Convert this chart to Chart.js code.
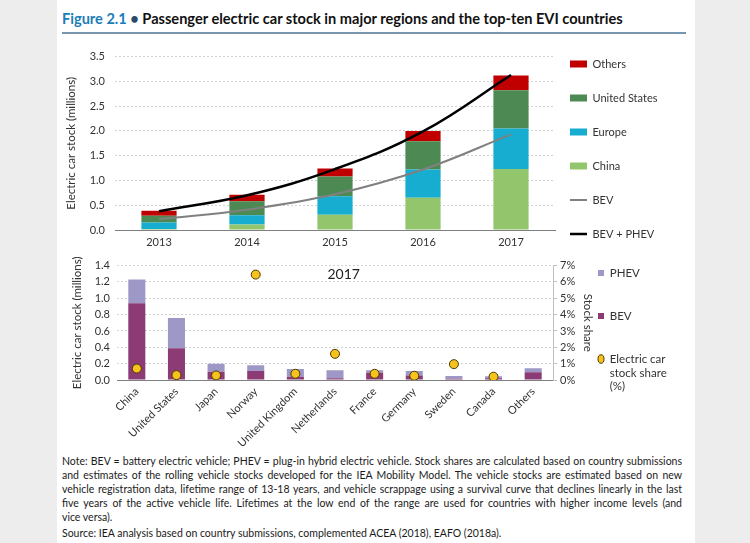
<!DOCTYPE html>
<html><head><meta charset="utf-8">
<script src="https://cdn.jsdelivr.net/npm/chart.js@4.4.1/dist/chart.umd.min.js"></script>
<style>
html,body{margin:0;padding:0;background:#ededed;width:750px;height:543px;overflow:hidden;}
#panel{position:absolute;left:57px;top:0;width:638px;height:543px;background:#fff;}
#title{position:absolute;left:62px;top:10px;font-family:Lato,"Open Sans",sans-serif;font-weight:bold;font-size:15px;color:#111;white-space:nowrap;line-height:18px;}
#title .fig{color:#1b7db8;}
#title .dot{color:#2a4a66;}
#rule{position:absolute;left:62px;top:32px;width:624px;height:1.5px;background:#7896ad;}
#c1{position:absolute;left:57px;top:40px;}
#c2{position:absolute;left:57px;top:252px;}
.note{position:absolute;left:62px;width:620px;font-family:Lato,"Open Sans",sans-serif;font-size:11px;color:#1a1a1a;line-height:14px;height:14px;overflow:visible;}
.just{text-align:justify;text-align-last:justify;}
</style>
</head>
<body>
<div id="panel"></div>
<div id="title"><span class="fig">Figure 2.1</span> <span class="dot">&bull;</span> Passenger electric car stock in major regions and the top-ten EVI countries</div>
<div id="rule"></div>
<canvas id="c1" width="638" height="212"></canvas>
<canvas id="c2" width="638" height="200"></canvas>
<div class="note just" style="top:454px">Note: BEV = battery electric vehicle; PHEV = plug-in hybrid electric vehicle. Stock shares are calculated based on country submissions</div>
<div class="note just" style="top:468px">and estimates of the rolling vehicle stocks developed for the IEA Mobility Model. The vehicle stocks are estimated based on new</div>
<div class="note just" style="top:482px">vehicle registration data, lifetime range of 13-18 years, and vehicle scrappage using a survival curve that declines linearly in the last</div>
<div class="note just" style="top:496px">five years of the active vehicle life. Lifetimes at the low end of the range are used for countries with higher income levels (and</div>
<div class="note" style="top:510px">vice versa).</div>
<div class="note" style="top:526px">Source: IEA analysis based on country submissions, complemented ACEA (2018), EAFO (2018a).</div>
<script>
// ---------- data ----------
const years = ['2013', '2014', '2015', '2016', '2017'];
const chinaStock = [0.02, 0.11, 0.31, 0.65, 1.23];
const europeStock = [0.13, 0.19, 0.37, 0.57, 0.82];
const usStock = [0.14, 0.28, 0.40, 0.57, 0.77];
const othersStock = [0.10, 0.13, 0.16, 0.21, 0.30];
const bevStock = [0.22, 0.41, 0.72, 1.22, 1.93];
const totalStock = [0.38, 0.70, 1.23, 1.99, 3.13];
const topTicks = [0.0, 0.5, 1.0, 1.5, 2.0, 2.5, 3.0, 3.5];

const countries = ['China', 'United States', 'Japan', 'Norway', 'United Kingdom', 'Netherlands', 'France', 'Germany', 'Sweden', 'Canada', 'Others'];
const bev2017 = [0.94, 0.39, 0.10, 0.11, 0.04, 0.02, 0.09, 0.055, 0.015, 0.022, 0.095];
const phev2017 = [0.29, 0.37, 0.10, 0.07, 0.095, 0.10, 0.03, 0.055, 0.035, 0.024, 0.05];
const share2017 = [0.70, 0.30, 0.28, 6.45, 0.38, 1.60, 0.38, 0.26, 0.97, 0.20, null];
const bottomTicks = [0.0, 0.2, 0.4, 0.6, 0.8, 1.0, 1.2, 1.4];
const shareTicks = [0, 1, 2, 3, 4, 5, 6, 7];

const topLegendOrder = ['Others', 'United States', 'Europe', 'China', 'BEV', 'BEV + PHEV'];
const bottomLegendOrder = ['PHEV', 'BEV', 'Electric car stock share (%)'];

// ---------- text fitting ----------
(function(){
  const c = document.createElement('canvas').getContext('2d');
  const fam = 'Lato, "Open Sans", sans-serif';
  const t = document.getElementById('title');
  c.font = 'bold 100px ' + fam;
  const tw = c.measureText(t.textContent).width;
  t.style.fontSize = Math.min(15.5, 100 * 562 / tw) + 'px';
  c.font = '100px ' + fam;
  let mw = 0;
  document.querySelectorAll('.note').forEach(n => { mw = Math.max(mw, c.measureText(n.textContent).width); });
  const fs = Math.min(11.5, 100 * 614 / mw);
  document.querySelectorAll('.note').forEach(n => { n.style.fontSize = fs + 'px'; });
})();

Chart.defaults.font.family = 'Lato, "Open Sans", sans-serif';
Chart.defaults.font.size = 11;
Chart.defaults.color = '#333';
Chart.defaults.animation = false;

const legendPlace = {
  id: 'legendPlace',
  afterLayout(chart, args, o) {
    const lg = chart.legend;
    if (!lg || o.left === undefined) return;
    lg.left = o.left; lg.top = o.top;
    lg.width = o.width; lg.height = o.height;
    lg.right = o.left + o.width; lg.bottom = o.top + o.height;
  }
};

const yearLabel = {
  id: 'yearLabel',
  afterDatasetsDraw(chart, args, o) {
    if (!o.text) return;
    const {ctx, chartArea: a} = chart;
    ctx.save();
    ctx.font = '14px Lato, "Open Sans", sans-serif';
    ctx.fillStyle = '#222';
    ctx.textAlign = 'center';
    ctx.textBaseline = 'middle';
    ctx.fillText(o.text, a.left + a.width * o.fx, a.top + o.dy);
    ctx.restore();
  }
};

const gridColor = (ctx) => (ctx.tick && ctx.tick.value === 0) ? 'rgba(0,0,0,0)' : '#d2d2d2';

// ---------- top chart ----------
new Chart(document.getElementById('c1'), {
  type: 'bar',
  data: {
    labels: years,
    datasets: [
      {type: 'line', label: 'BEV + PHEV', data: totalStock, borderColor: '#000', backgroundColor: '#000', borderWidth: 2.5, pointRadius: 0, tension: 0.4, stack: 'total', order: 0},
      {type: 'line', label: 'BEV', data: bevStock, borderColor: '#808080', backgroundColor: '#808080', borderWidth: 2, pointRadius: 0, tension: 0.4, stack: 'bev', order: 1},
      {label: 'China', data: chinaStock, backgroundColor: '#92c56c', order: 2},
      {label: 'Europe', data: europeStock, backgroundColor: '#17add1', order: 2},
      {label: 'United States', data: usStock, backgroundColor: '#4d8a53', order: 2},
      {label: 'Others', data: othersStock, backgroundColor: '#c00000', order: 2}
    ]
  },
  options: {
    responsive: false,
    animation: false,
    layout: {padding: {top: 14, right: 140, bottom: 0, left: 0}},
    datasets: {bar: {barPercentage: 0.4, categoryPercentage: 1}},
    scales: {
      x: {
        stacked: true,
        grid: {display: false, drawTicks: false},
        border: {display: true, color: '#7f7f7f', width: 1},
        ticks: {padding: 6, color: '#333', font: {size: 11}},
        afterFit(s) { s.height = 22; }
      },
      y: {
        stacked: true, min: 0, max: 3.5,
        afterBuildTicks(s) { s.ticks = topTicks.map(v => ({value: v})); },
        ticks: {padding: 10, color: '#333', callback: v => Number(v).toFixed(1)},
        grid: {color: gridColor, drawTicks: false},
        border: {display: false, dash: [2, 2]},
        title: {display: true, text: 'Electric car stock (millions)', color: '#333', font: {size: 11.5}, padding: {top: 7, bottom: 0}},
        afterFit(s) { s.width = 58; }
      }
    },
    plugins: {
      tooltip: {enabled: false},
      legend: {
        position: 'chartArea', align: 'start',
        labels: {
          usePointStyle: true, pointStyleWidth: 17, boxHeight: 7, padding: 23, color: '#333', font: {size: 11},
          generateLabels(chart) {
            const items = Chart.defaults.plugins.legend.labels.generateLabels(chart);
            const by = {}; items.forEach(it => by[it.text] = it);
            return topLegendOrder.map(n => {
              const it = by[n];
              const ds = chart.data.datasets[it.datasetIndex];
              if (ds.type === 'line') { it.pointStyle = 'line'; it.strokeStyle = ds.borderColor; it.lineWidth = ds.borderWidth; }
              else { it.pointStyle = 'rect'; it.fillStyle = ds.backgroundColor; it.strokeStyle = ds.backgroundColor; it.lineWidth = 0; }
              return it;
            });
          }
        }
      },
      legendPlace: {left: 490, top: -4.5, width: 148, height: 260}
    }
  },
  plugins: [legendPlace]
});

// ---------- bottom chart ----------
new Chart(document.getElementById('c2'), {
  type: 'bar',
  data: {
    labels: countries,
    datasets: [
      {type: 'line', label: 'Electric car stock share (%)', data: share2017, yAxisID: 'y2', showLine: false,
       pointRadius: 4.5, pointBackgroundColor: '#f7c21b', pointBorderColor: '#4a3b00', pointBorderWidth: 1,
       backgroundColor: '#f7c21b', borderColor: '#4a3b00', borderWidth: 1, order: 0},
      {label: 'BEV', data: bev2017, backgroundColor: '#8c3b75', stack: 'ev', order: 1},
      {label: 'PHEV', data: phev2017, backgroundColor: '#9e98c7', stack: 'ev', order: 1}
    ]
  },
  options: {
    responsive: false,
    animation: false,
    layout: {padding: {top: 10, right: 100, bottom: 0, left: 0}},
    datasets: {bar: {barPercentage: 0.43, categoryPercentage: 1}},
    scales: {
      x: {
        stacked: true,
        grid: {display: false, drawTicks: false},
        border: {display: true, color: '#7f7f7f', width: 1},
        ticks: {padding: 5, minRotation: 45, maxRotation: 45, autoSkip: false, color: '#333', font: {size: 11}},
        afterFit(s) { s.height = 72; }
      },
      y: {
        stacked: true, min: 0, max: 1.4,
        afterBuildTicks(s) { s.ticks = bottomTicks.map(v => ({value: v})); },
        ticks: {padding: 7, color: '#333', callback: v => Number(v).toFixed(1)},
        grid: {color: gridColor, drawTicks: false},
        border: {display: false, dash: [2, 2]},
        title: {display: true, text: 'Electric car stock (millions)', color: '#333', font: {size: 11.5}, padding: {top: 13, bottom: 0}},
        afterFit(s) { s.width = 60; }
      },
      y2: {
        position: 'right', stacked: false, min: 0, max: 7,
        afterBuildTicks(s) { s.ticks = shareTicks.map(v => ({value: v})); },
        ticks: {padding: 3, color: '#333', callback: v => v + '%'},
        grid: {drawOnChartArea: false, drawTicks: true, tickLength: 4, color: '#bfbfbf'},
        border: {display: true, color: '#bfbfbf'},
        title: {display: true, text: 'Stock share', color: '#333', font: {size: 11.5}, padding: {top: 0, bottom: 0}},
        afterFit(s) { s.width = 42; }
      }
    },
    plugins: {
      tooltip: {enabled: false},
      legend: {
        position: 'chartArea', align: 'start',
        labels: {
          usePointStyle: true, pointStyleWidth: 6, boxHeight: 6, padding: 31.5, color: '#333', font: {size: 11.5},
          generateLabels(chart) {
            const items = Chart.defaults.plugins.legend.labels.generateLabels(chart);
            const by = {}; items.forEach(it => by[it.text] = it);
            return bottomLegendOrder.map(n => {
              const it = by[n];
              const ds = chart.data.datasets[it.datasetIndex];
              if (ds.type === 'line') {
                it.pointStyle = 'circle'; it.fillStyle = ds.pointBackgroundColor; it.strokeStyle = ds.pointBorderColor; it.lineWidth = 1;
                it.text = ['Electric car', 'stock share', '(%)'];
              } else { it.pointStyle = 'rect'; it.fillStyle = ds.backgroundColor; it.strokeStyle = ds.backgroundColor; it.lineWidth = 0; }
              return it;
            });
          }
        }
      },
      legendPlace: {left: 509.5, top: -16.25, width: 128, height: 230},
      yearLabel: {text: years[years.length - 1], fx: 0.52, dy: 9}
    }
  },
  plugins: [legendPlace, yearLabel]
});
</script>
</body></html>
